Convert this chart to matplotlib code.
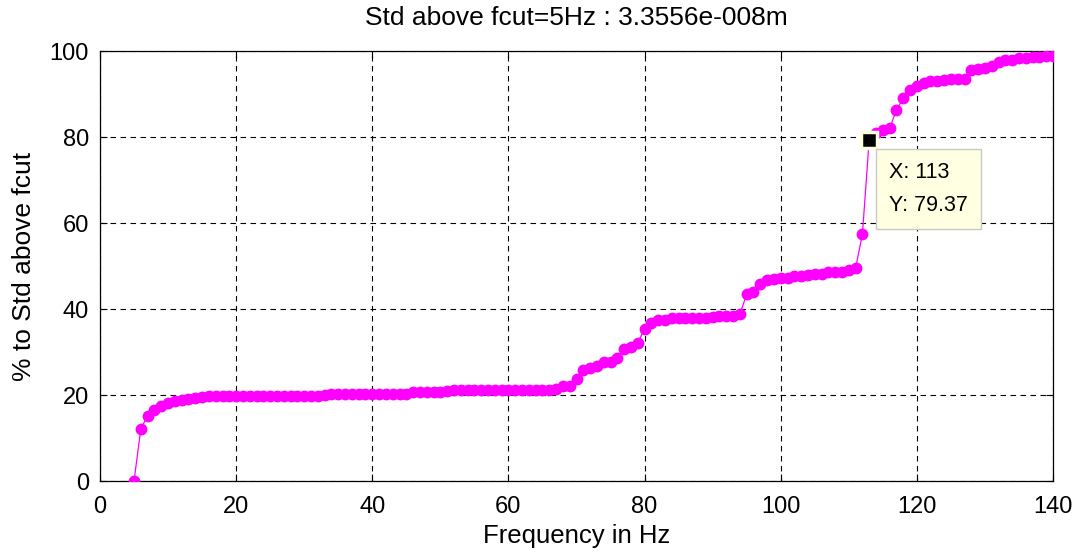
import matplotlib
matplotlib.use("Agg")
import matplotlib.pyplot as plt

plt.rcParams['font.family'] = ['Liberation Sans', 'DejaVu Sans']

# Frequency (Hz) and cumulative % of std above fcut
freq = list(range(5, 141))
pct = [
    0.0, 12.2, 15.1, 16.4, 17.4, 18.2, 18.6, 18.9, 19.1, 19.3,   # 5-14
    19.5, 19.7, 19.8, 19.8, 19.8, 19.8, 19.8, 19.8, 19.8, 19.8,  # 15-24
    19.8, 19.8, 19.8, 19.8, 19.8, 19.7, 19.7, 19.8, 20.1, 20.2,  # 25-34
    20.2, 20.2, 20.2, 20.2, 20.2, 20.2, 20.2, 20.2, 20.2, 20.2,  # 35-44
    20.3, 20.7, 20.7, 20.7, 20.7, 20.8, 20.9, 21.1, 21.1, 21.1,  # 45-54
    21.1, 21.1, 21.1, 21.1, 21.1, 21.1, 21.1, 21.1, 21.1, 21.1,  # 55-64
    21.1, 21.1, 21.5, 22.0, 22.0, 23.8, 25.7, 26.2, 26.7, 27.6,  # 65-74
    27.7, 28.5, 30.7, 31.2, 32.2, 35.3, 36.8, 37.4, 37.5, 37.8,  # 75-84
    37.8, 37.8, 37.8, 37.8, 38.0, 38.2, 38.3, 38.3, 38.3, 38.8,  # 85-94
    43.4, 44.0, 45.8, 46.7, 46.9, 47.2, 47.2, 47.6, 47.7, 47.8,  # 95-104
    48.1, 48.2, 48.6, 48.7, 48.7, 49.1, 49.5, 57.4, 79.37, 81.0, # 105-114
    81.6, 82.0, 86.3, 89.0, 90.9, 91.9, 92.6, 93.1, 93.1, 93.3,  # 115-124
    93.4, 93.6, 93.6, 95.6, 95.9, 96.1, 96.5, 97.5, 97.8, 98.0,  # 125-134
    98.4, 98.4, 98.7, 98.7, 98.8, 98.8,                          # 135-140
]

tip_x = 113
tip_y = 79.37

xticks = [0, 20, 40, 60, 80, 100, 120, 140]
yticks = [0, 20, 40, 60, 80, 100]

fig = plt.figure(figsize=(10.81, 5.54), dpi=100)
ax = fig.add_axes([100 / 1081, 1 - 481 / 554, (1053 - 100) / 1081, (481 - 51) / 554])

ax.plot(freq, pct, color='#FF00FF', linewidth=0.9, marker='o', markersize=7.5,
        markeredgecolor='#FF00FF', markerfacecolor='#FF00FF', zorder=3)

ax.set_xlim(0, 140)
ax.set_ylim(0, 100)
ax.set_xticks(xticks)
ax.set_yticks(yticks)
ax.grid(True, color='black', linestyle=(0, (5, 4)), linewidth=0.8)
ax.tick_params(direction='in', length=5, labelsize=17, top=True, right=True,
               width=0.8)
ax.tick_params(axis='x', pad=11)
ax.tick_params(axis='y', pad=8)
for s in ax.spines.values():
    s.set_linewidth(0.9)

ax.set_title('Std above fcut=5Hz : 3.3556e-008m', fontsize=19, pad=19)
ax.set_xlabel('Frequency in Hz', fontsize=18.5, labelpad=4)
ax.set_ylabel('% to Std above fcut', fontsize=19, labelpad=10)

# data tip
ax.plot([tip_x], [tip_y], marker='s', markersize=11.5, color='black',
        markeredgecolor='#FFFFE1', markeredgewidth=2.5, zorder=5)
ax.annotate(f'X: {tip_x}\nY: {tip_y}', xy=(tip_x, tip_y), xytext=(20, -22),
            textcoords='offset pixels', ha='left', va='top', fontsize=15.5,
            linespacing=1.75,
            bbox=dict(boxstyle='square,pad=0.6', facecolor='#FFFFE1',
                      edgecolor='#C8C8C8', linewidth=1.0), zorder=6)

fig.savefig('out.png', dpi=100)
